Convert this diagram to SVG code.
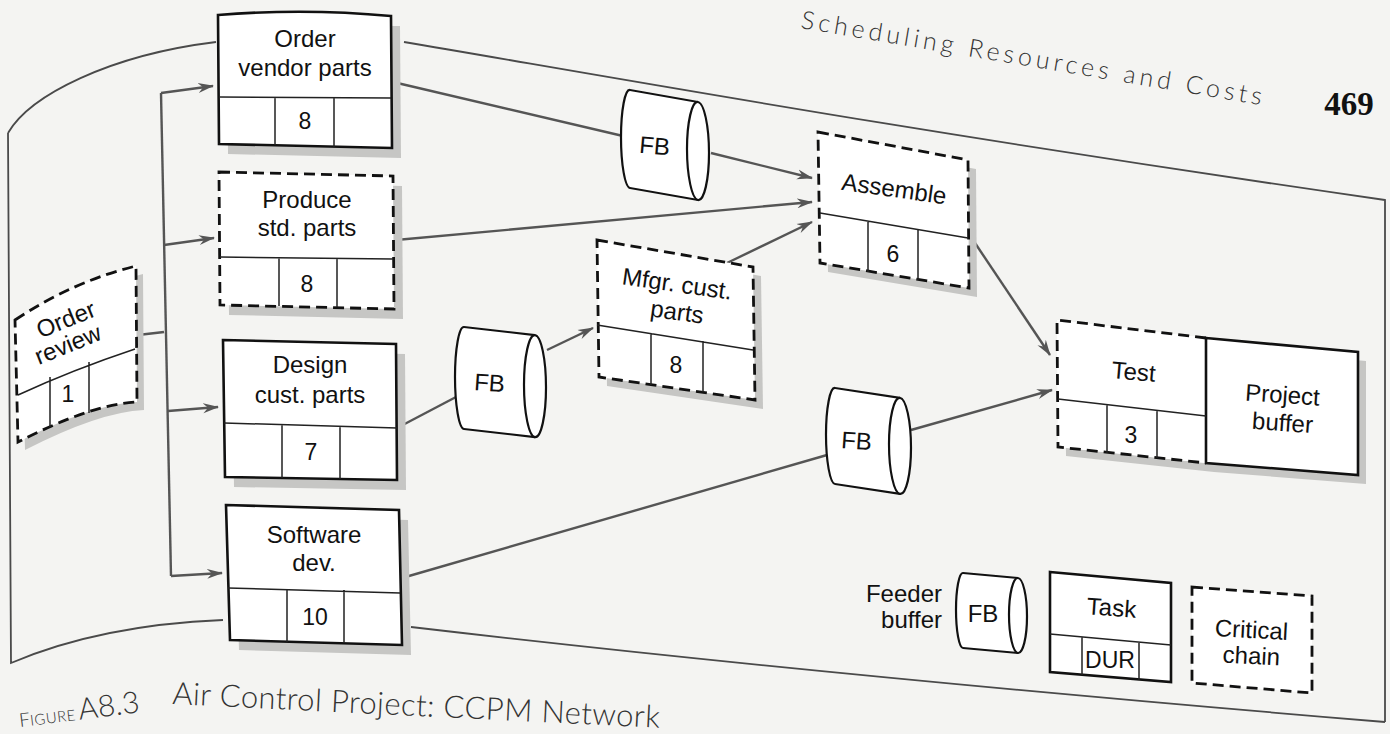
<svg xmlns="http://www.w3.org/2000/svg" width="1390" height="734" viewBox="0 0 1390 734">
  <style>
    .page { fill: #f4f4f2; }
    .frame { fill: none; stroke: #4a4a4a; stroke-width: 1.8; }
    .shadow { fill: #c6c6c4; stroke: none; }
    .box { fill: #ffffff; stroke: #111; stroke-width: 2.6; stroke-linejoin: miter; }
    .dash { fill: #ffffff; stroke: #111; stroke-width: 2.8; stroke-dasharray: 11 6; }
    .inner { fill: none; stroke: #222; stroke-width: 1.5; }
    .cyl { fill: #ffffff; stroke: #111; stroke-width: 2.2; }
    .edge { fill: none; stroke: #555; stroke-width: 2.4; }
    .lbl { font-family: "Liberation Sans", Arial, sans-serif; font-size: 24px; fill: #111; text-anchor: middle; }
    .num { font-family: "Liberation Sans", Arial, sans-serif; font-size: 23px; fill: #111; text-anchor: middle; }
    .head { font-family: Lato, "Open Sans", sans-serif; font-weight: 300; fill: #333; }
  </style>
  <defs>
    <marker id="arr" markerUnits="userSpaceOnUse" markerWidth="18" markerHeight="12" refX="15" refY="6" orient="auto">
      <path d="M0,1 L16,6 L0,11 L5,6 Z" fill="#555"/>
    </marker>
  </defs>

  <!-- page and warped figure frame -->
  <rect class="page" x="0" y="0" width="1390" height="734"/>
  <g id="frame">
    <path class="frame" d="M8,133 C30,95 110,55 216,42"/>
    <path class="frame" d="M404,42 C600,75 900,130 1385,200 L1385,722"/>
    <path class="frame" d="M8,133 L11,663 Q100,625 223,620"/>
    <path class="frame" d="M411,627 C650,655 1000,690 1385,722"/>
  </g>

  <!-- running head -->
  <text class="head" x="800" y="28" font-size="25" letter-spacing="3" textLength="470" transform="rotate(9.5 800 28)">Scheduling Resources and Costs</text>
  <text x="1349" y="115" font-family="'Liberation Serif', 'Times New Roman', serif" font-weight="bold" font-size="33" fill="#111" text-anchor="middle">469</text>

  <!-- connectors -->
  <g id="connectors">
    <path class="edge" d="M138,335 L164,332"/>
    <path class="edge" d="M161,93 L171,576"/>
    <path class="edge" d="M161,93 L213,86" marker-end="url(#arr)"/>
    <path class="edge" d="M164,245 L214,238" marker-end="url(#arr)"/>
    <path class="edge" d="M168,411 L218,407" marker-end="url(#arr)"/>
    <path class="edge" d="M171,576 L222,573" marker-end="url(#arr)"/>
    <path class="edge" d="M393,82 L623,136"/>
    <path class="edge" d="M711,153 L812,178" marker-end="url(#arr)"/>
    <path class="edge" d="M396,240 L812,202" marker-end="url(#arr)"/>
    <path class="edge" d="M727,263 L812,222" marker-end="url(#arr)"/>
    <path class="edge" d="M397,428 L456,397"/>
    <path class="edge" d="M547,350 L593,328" marker-end="url(#arr)"/>
    <path class="edge" d="M402,578 L827,455"/>
    <path class="edge" d="M911,430 L1052,390" marker-end="url(#arr)"/>
    <path class="edge" d="M973,240 L1050,355" marker-end="url(#arr)"/>
  </g>

  <!-- Order review -->
  <g id="order-review">
    <path class="shadow" transform="translate(7,8)" d="M15,320 Q74,281 136,266 L137,402 Q92,404 18,442 Z"/>
    <path class="dash" d="M15,320 Q74,281 136,266 L137,402 Q92,404 18,442 Z"/>
    <path class="inner" d="M18,395 Q72,370 135,349 M50,377 L50,427 M89,362 L89,413"/>
    <text class="lbl" font-size="21" transform="translate(69,327) rotate(-22)">Order</text>
    <text class="lbl" font-size="21" transform="translate(71,352) rotate(-22)">review</text>
    <text class="num" x="68" y="402">1</text>
  </g>

  <!-- Order vendor parts -->
  <g id="order-vendor-parts">
    <polygon class="shadow" transform="translate(9,10)" points="218,15 391,16 392,148 219,144"/>
    <path class="box" d="M218,15 Q305,8 391,16 L392,148 L219,144 Z"/>
    <path class="inner" d="M219,97 L391,98 M275,97 L275,145 M334,98 L334,147"/>
    <text class="lbl" x="305" y="47">Order</text>
    <text class="lbl" x="305" y="76">vendor parts</text>
    <text class="num" x="305" y="129">8</text>
  </g>

  <!-- Produce std. parts -->
  <g id="produce-std-parts">
    <polygon class="shadow" transform="translate(9,10)" points="219,172 393,176 394,309 220,305"/>
    <polygon class="dash" points="219,172 393,176 394,309 220,305"/>
    <path class="inner" d="M220,257 L393,259 M279,257 L279,306 M337,258 L337,307"/>
    <text class="lbl" x="307" y="208">Produce</text>
    <text class="lbl" x="307" y="236">std. parts</text>
    <text class="num" x="307" y="292">8</text>
  </g>

  <!-- Design cust. parts -->
  <g id="design-cust-parts">
    <polygon class="shadow" transform="translate(9,10)" points="223,340 396,344 397,480 225,477"/>
    <polygon class="box" points="223,340 396,344 397,480 225,477"/>
    <path class="inner" d="M224,423 L397,428 M282,424 L282,478 M340,426 L340,479"/>
    <text class="lbl" x="310" y="373">Design</text>
    <text class="lbl" x="310" y="403">cust. parts</text>
    <text class="num" x="311" y="460">7</text>
  </g>

  <!-- Software dev. -->
  <g id="software-dev">
    <polygon class="shadow" transform="translate(9,10)" points="226,505 399,510 402,645 230,640"/>
    <polygon class="box" points="226,505 399,510 402,645 230,640"/>
    <path class="inner" d="M228,588 L400,593 M287,589 L287,642 M344,590 L344,643"/>
    <text class="lbl" x="314" y="543">Software</text>
    <text class="lbl" x="314" y="571">dev.</text>
    <text class="num" x="315" y="625">10</text>
  </g>

  <!-- Feeder buffer after Order vendor parts -->
  <g id="fb-vendor">
    <g transform="translate(630,90) skewY(10)">
      <path class="cyl" d="M0,0 L68,0 A11,49 0 0 1 68,98 L0,98 A9,49 0 0 1 0,0 Z"/>
      <path class="cyl" d="M68,0 A11,49 0 0 0 68,98"/>
    </g>
    <text class="lbl" font-size="22" x="654" y="154" transform="rotate(5 654 154)">FB</text>
  </g>

  <!-- Feeder buffer after Design cust. parts -->
  <g id="fb-design">
    <g transform="translate(464,327) skewY(6.5)">
      <path class="cyl" d="M0,0 L71,0 A11,51 0 0 1 71,102 L0,102 A9,51 0 0 1 0,0 Z"/>
      <path class="cyl" d="M71,0 A11,51 0 0 0 71,102"/>
    </g>
    <text class="lbl" font-size="22" x="489" y="391" transform="rotate(4 489 391)">FB</text>
  </g>

  <!-- Feeder buffer after Software dev. -->
  <g id="fb-software">
    <g transform="translate(835,388) skewY(8.7)">
      <path class="cyl" d="M0,0 L65,0 A11,48 0 0 1 65,96 L0,96 A9,48 0 0 1 0,0 Z"/>
      <path class="cyl" d="M65,0 A11,48 0 0 0 65,96"/>
    </g>
    <text class="lbl" font-size="22" x="856" y="449" transform="rotate(4 856 449)">FB</text>
  </g>

  <!-- Mfgr. cust. parts -->
  <g id="mfgr-cust-parts">
    <polygon class="shadow" transform="translate(8,9)" points="597,240 753,267 755,400 599,377"/>
    <polygon class="dash" points="597,240 753,267 755,400 599,377"/>
    <path class="inner" d="M597,325 L753,350 M651,333 L651,385 M703,341 L703,392"/>
    <text class="lbl" x="676" y="292" transform="rotate(8 676 292)">Mfgr. cust.</text>
    <text class="lbl" x="676" y="320" transform="rotate(8 676 320)">parts</text>
    <text class="num" x="676" y="373">8</text>
  </g>

  <!-- Assemble -->
  <g id="assemble">
    <polygon class="shadow" transform="translate(8,9)" points="818,132 968,160 969,288 820,263"/>
    <polygon class="dash" points="818,132 968,160 969,288 820,263"/>
    <path class="inner" d="M820,213 L968,238 M868,221 L868,272 M918,229 L918,280"/>
    <text class="lbl" x="893" y="197" transform="rotate(8 893 197)">Assemble</text>
    <text class="num" x="893" y="262">6</text>
  </g>

  <!-- Test with Project buffer -->
  <g id="test">
    <polygon class="shadow" transform="translate(8,9)" points="1057,320 1206,338 1358,352 1358,475 1206,463 1058,447"/>
    <polygon fill="#fff" points="1057,320 1206,338 1206,463 1058,447"/>
    <path class="dash" fill="none" d="M1206,338 L1057,320 L1058,447 L1206,463"/>
    <polygon class="box" points="1206,338 1358,352 1358,475 1206,463"/>
    <path class="inner" d="M1058,399 L1206,416 M1107,405 L1107,453 M1157,410 L1157,458"/>
    <text class="lbl" x="1133" y="380" transform="rotate(5 1133 380)">Test</text>
    <text class="num" x="1131" y="443">3</text>
    <text class="lbl" x="1282" y="403" transform="rotate(4 1282 403)">Project</text>
    <text class="lbl" x="1282" y="431" transform="rotate(4 1282 431)">buffer</text>
  </g>

  <!-- key -->
  <g id="legend-feeder-buffer">
    <text class="lbl" style="text-anchor:end" x="942" y="602">Feeder</text>
    <text class="lbl" style="text-anchor:end" x="942" y="628">buffer</text>
    <g transform="translate(963,573) skewY(5.2)">
      <path class="cyl" d="M0,0 L55,0 A9,37.5 0 0 1 55,75 L0,75 A7,37.5 0 0 1 0,0 Z"/>
      <path class="cyl" d="M55,0 A9,37.5 0 0 0 55,75"/>
    </g>
    <text class="lbl" font-size="22" x="983" y="622">FB</text>
  </g>
  <g id="legend-task">
    <polygon class="box" points="1050,572 1171,583 1171,682 1050,672"/>
    <path class="inner" d="M1050,634 L1171,645 M1082,637 L1082,675 M1139,642 L1139,680"/>
    <text class="lbl" x="1111" y="616" transform="rotate(4 1111 616)">Task</text>
    <text class="num" x="1110" y="668" font-size="21">DUR</text>
  </g>
  <g id="legend-critical-chain">
    <polygon class="dash" points="1192,587 1312,596 1312,693 1192,683"/>
    <text class="lbl" x="1251" y="638" transform="rotate(3 1251 638)">Critical</text>
    <text class="lbl" x="1251" y="664" transform="rotate(3 1251 664)">chain</text>
  </g>

  <!-- caption -->
  <text class="head" font-weight="400" transform="translate(20,727) rotate(-7)"><tspan font-size="19">F</tspan><tspan font-size="15" letter-spacing="0.5">IGURE</tspan><tspan font-size="30" dx="3">A8.3</tspan></text>
  <text class="head" font-size="31" textLength="488" transform="translate(172,704) rotate(2.8)">Air Control Project: CCPM Network</text>
</svg>
